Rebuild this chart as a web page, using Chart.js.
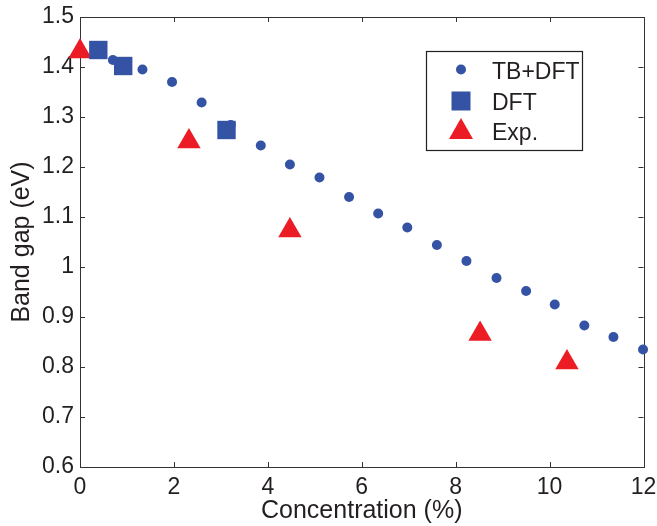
<!DOCTYPE html>
<html>
<head>
<meta charset="utf-8">
<script src="https://cdn.jsdelivr.net/npm/chart.js@4.4.1/dist/chart.umd.min.js"></script>
<style>
html, body { margin: 0; padding: 0; background: #fff; }
</style>
</head>
<body>
<canvas id="gapChart" width="657" height="526"></canvas>
<script>
// values
var tbdftX = [0.70, 1.33, 1.96, 2.59, 3.21, 3.85, 4.47, 5.10, 5.73, 6.35, 6.97, 7.60, 8.23, 8.87, 9.50, 10.11, 10.74, 11.36, 11.99];
var tbdftY = [1.414, 1.395, 1.370, 1.329, 1.284, 1.243, 1.205, 1.179, 1.140, 1.107, 1.079, 1.044, 1.012, 0.978, 0.952, 0.925, 0.883, 0.860, 0.835];
var dftX = [0.39, 0.92, 3.12];
var dftY = [1.434, 1.402, 1.274];
var expX = [0.0, 2.32, 4.47, 8.52, 10.37];
var expY = [1.431, 1.251, 1.073, 0.866, 0.809];
var xTicks = [0, 2, 4, 6, 8, 10, 12];
var yTicks = [0.6, 0.7, 0.8, 0.9, 1.0, 1.1, 1.2, 1.3, 1.4, 1.5];
var seriesNames = ['TB+DFT', 'DFT', 'Exp.'];

var blue = '#3553a4';
var red = '#ec1c24';
var ink = '#231f20';

function toPoints(xs, ys) {
    return xs.map(function (x, i) { return { x: x, y: ys[i] }; });
}

// matlab style box with inward ticks on all four sides
var framePlugin = {
    id: 'frame',
    beforeDatasetsDraw: function (chart) {
        var ctx = chart.ctx, a = chart.chartArea;
        var xs = chart.scales.x, ys = chart.scales.y;
        ctx.save();
        ctx.strokeStyle = '#333';
        ctx.lineWidth = 1;
        ctx.strokeRect(Math.round(a.left) + 0.5, Math.round(a.top) + 0.5,
            Math.round(a.right - a.left), Math.round(a.bottom - a.top));
        ctx.beginPath();
        xTicks.forEach(function (v) {
            var p = Math.round(xs.getPixelForValue(v)) + 0.5;
            ctx.moveTo(p, a.bottom); ctx.lineTo(p, a.bottom - 5);
            ctx.moveTo(p, a.top); ctx.lineTo(p, a.top + 5);
        });
        yTicks.forEach(function (v) {
            var p = Math.round(ys.getPixelForValue(v)) + 0.5;
            ctx.moveTo(a.left, p); ctx.lineTo(a.left + 5, p);
            ctx.moveTo(a.right, p); ctx.lineTo(a.right - 5, p);
        });
        ctx.stroke();
        ctx.restore();
    }
};

// legend box inside the plot, top right
var legendPlugin = {
    id: 'boxLegend',
    afterDraw: function (chart) {
        var ctx = chart.ctx;
        var bx = 426, by = 51, bw = 156, bh = 99;
        ctx.save();
        ctx.fillStyle = '#fff';
        ctx.fillRect(bx, by, bw, bh);
        ctx.strokeStyle = ink;
        ctx.lineWidth = 1.2;
        ctx.strokeRect(bx + 0.5, by + 0.5, bw, bh);

        var mx = 461;
        // circle
        ctx.fillStyle = blue;
        ctx.beginPath();
        ctx.arc(mx, 69.5, 5, 0, Math.PI * 2);
        ctx.fill();
        // square
        ctx.fillRect(mx - 9.5, 91.5, 19, 19);
        // triangle
        ctx.fillStyle = red;
        ctx.beginPath();
        ctx.moveTo(mx, 118);
        ctx.lineTo(mx + 12, 139);
        ctx.lineTo(mx - 12, 139);
        ctx.closePath();
        ctx.fill();

        ctx.fillStyle = ink;
        ctx.font = '23px "Liberation Sans", Arial, sans-serif';
        ctx.textBaseline = 'alphabetic';
        ctx.textAlign = 'left';
        ctx.fillText(seriesNames[0], 492, 78.5);
        ctx.fillText(seriesNames[1], 492, 109.5);
        ctx.fillText(seriesNames[2], 492, 139.5);
        ctx.restore();
    }
};

Chart.defaults.font.family = '"Liberation Sans", Arial, sans-serif';
Chart.defaults.color = ink;

var ctx = document.getElementById('gapChart');
var gapChart = new Chart(ctx, {
    type: 'scatter',
    data: {
        datasets: [
            {
                label: seriesNames[0],
                data: toPoints(tbdftX, tbdftY),
                pointStyle: 'circle',
                pointRadius: 5,
                pointHoverRadius: 5,
                backgroundColor: blue,
                borderWidth: 0,
                clip: false
            },
            {
                label: seriesNames[1],
                data: toPoints(dftX, dftY),
                pointStyle: 'rect',
                pointRadius: 13,
                pointHoverRadius: 13,
                backgroundColor: blue,
                borderWidth: 0,
                clip: false
            },
            {
                label: seriesNames[2],
                data: toPoints(expX, expY),
                pointStyle: 'triangle',
                pointRadius: 13.5,
                pointHoverRadius: 13.5,
                backgroundColor: red,
                borderWidth: 0,
                clip: false
            }
        ]
    },
    options: {
        responsive: false,
        animation: false,
        devicePixelRatio: 1,
        layout: { padding: { top: 17, right: 11, left: 0, bottom: 0 } },
        plugins: {
            legend: { display: false },
            tooltip: { enabled: false }
        },
        scales: {
            x: {
                type: 'linear',
                min: 0,
                max: 12,
                grid: { display: false, drawTicks: false },
                border: { display: false },
                ticks: {
                    stepSize: 2,
                    padding: 7,
                    color: ink,
                    font: { size: 23 },
                    maxRotation: 0
                },
                title: {
                    display: true,
                    text: 'Concentration (%)',
                    color: ink,
                    font: { size: 25 },
                    padding: { top: 0, bottom: 0 }
                },
                afterFit: function (scale) {
                    scale.height = 59;
                    scale.paddingLeft = 0;
                    scale.paddingRight = 0;
                }
            },
            y: {
                type: 'linear',
                min: 0.6,
                max: 1.5,
                grid: { display: false, drawTicks: false },
                border: { display: false },
                ticks: {
                    stepSize: 0.1,
                    padding: 6,
                    color: ink,
                    font: { size: 23 },
                    callback: function (v) { return String(Math.round(v * 10) / 10); }
                },
                title: {
                    display: true,
                    text: 'Band gap (eV)',
                    color: ink,
                    font: { size: 25 },
                    padding: { top: 7, bottom: 0 }
                },
                afterFit: function (scale) {
                    scale.width = 80;
                    scale.paddingTop = 0;
                    scale.paddingBottom = 0;
                }
            }
        }
    },
    plugins: [framePlugin, legendPlugin]
});
</script>
</body>
</html>
